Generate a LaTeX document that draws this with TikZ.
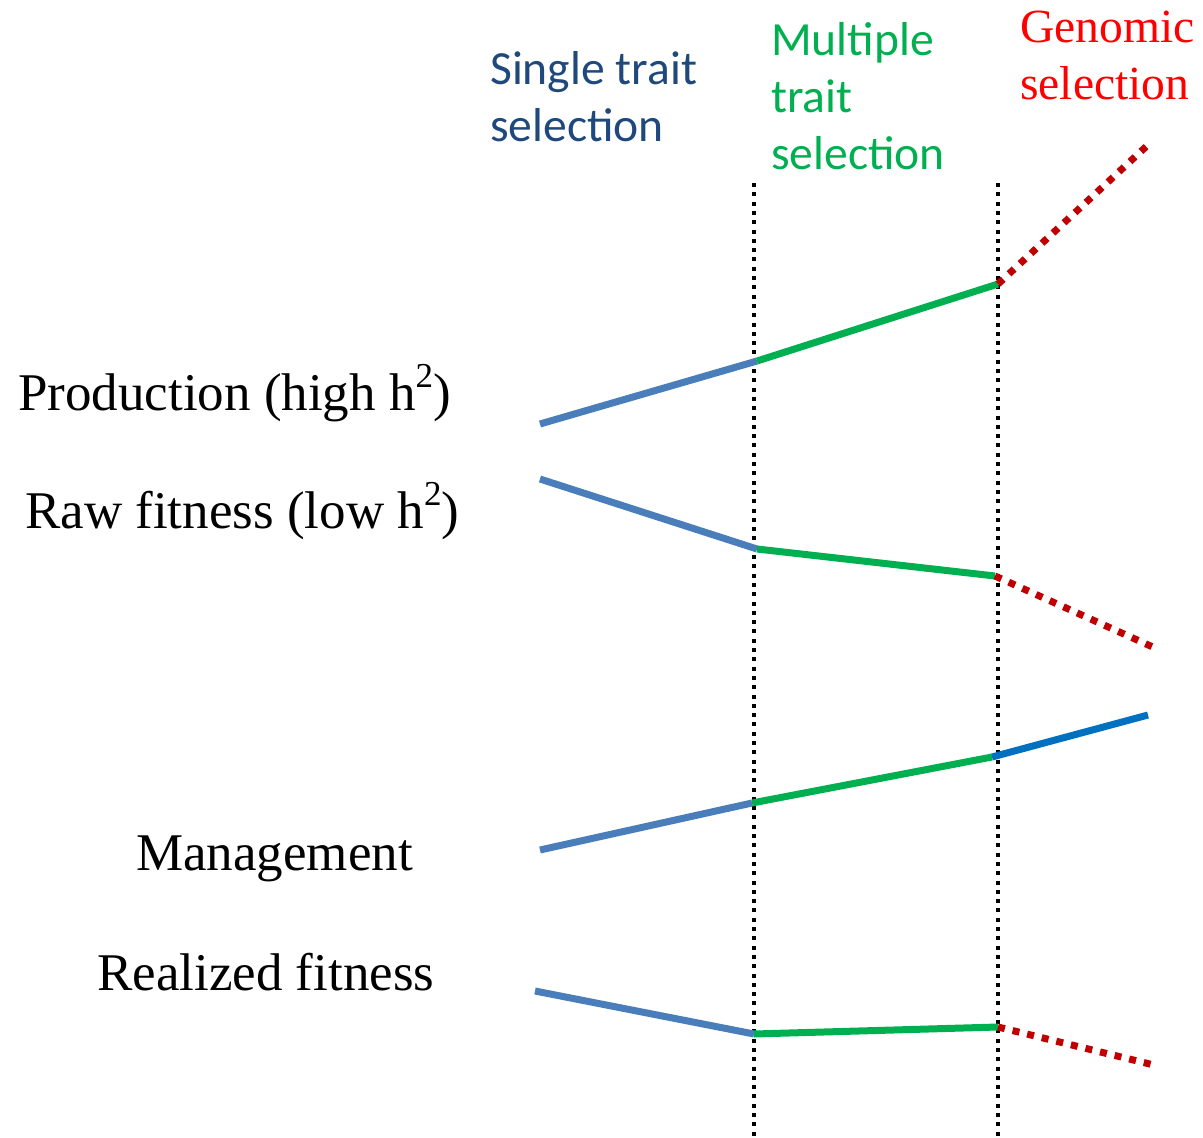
\documentclass[tikz,border=0pt]{standalone}
\usepackage{fontspec}
\setmainfont{Liberation Serif}
\newfontfamily\calib{Carlito}
\definecolor{stblue}{HTML}{4A7EBB}
\definecolor{gsgreen}{HTML}{00B050}
\definecolor{dkred}{HTML}{C00000}
\definecolor{mblue}{HTML}{0070C0}
\definecolor{navytxt}{HTML}{1F497D}
\definecolor{redtxt}{HTML}{FF0000}
\newcommand{\hsq}{\raisebox{0.42em}{\fontsize{35}{35}\selectfont 2}}
\tikzset{
  seg/.style={line width=7pt},
  singleseg/.style={seg, stblue},
  multiseg/.style={seg, gsgreen},
  genseg/.style={seg, dkred, dash pattern=on 7pt off 8pt},
  mgmtseg/.style={seg, mblue},
  divider/.style={line width=4pt, black, dash pattern=on 4pt off 5.3pt},
  toplabel/.style={inner sep=0pt, anchor=base west, align=left, font=\calib\fontsize{47.6}{57}\selectfont},
  gentlabel/.style={inner sep=0pt, anchor=base west, align=left, font=\fontsize{47.6}{57}\selectfont},
  rowlabel/.style={inner sep=0pt, anchor=base west, font=\fontsize{53}{60}\selectfont}
}
\begin{document}
\begin{tikzpicture}[x=1pt,y=-1pt]
\useasboundingbox (0,0) rectangle (1203,1138);
% dividers
\coordinate (d1t) at (754,183); \coordinate (d1b) at (754,1138);
\coordinate (d2t) at (998,183); \coordinate (d2b) at (998,1138);
\draw[divider] (d1t) -- (d1b);
\draw[divider] (d2t) -- (d2b);
% headers
\node[toplabel, text=navytxt] (hsingle) at (490,141) {Single trait\\selection};
\node[toplabel, text=gsgreen] (hmulti) at (771,169) {Multiple\\trait\\selection};
\node[gentlabel, text=redtxt] (hgen) at (1020,99) {Genomic\\selection};
% row labels
\node[rowlabel] (lprod) at (18,410) {Production (high h\hsq)};
\node[rowlabel] (lraw) at (25,528) {Raw fitness (low h\hsq)};
\node[rowlabel] (lmgmt) at (136,870) {Management};
\node[rowlabel] (lreal) at (97,990) {Realized fitness};
% production
\coordinate (p0) at (540,424); \coordinate (p1) at (757,361);
\coordinate (p2) at (998,284); \coordinate (p3) at (1150,143);
\draw[singleseg] (p0) -- (p1);
\draw[multiseg] (p1) -- (p2);
\draw[genseg] (p2) -- (p3);
% raw fitness
\coordinate (r0) at (540,479); \coordinate (r1) at (757,549);
\coordinate (r2) at (995,576); \coordinate (r3) at (1155,648);
\draw[singleseg] (r0) -- (r1);
\draw[multiseg] (r1) -- (r2);
\draw[genseg] (r2) -- (r3);
% management
\coordinate (m0) at (540,850); \coordinate (m1) at (752,803);
\coordinate (m2) at (992,757); \coordinate (m3) at (1148,715);
\draw[singleseg] (m0) -- (m1);
\draw[multiseg] (m1) -- (m2);
\draw[mgmtseg] (m2) -- (m3);
% realized fitness
\coordinate (f0) at (535,991); \coordinate (f1) at (754,1034);
\coordinate (f2) at (998,1027); \coordinate (f3) at (1158,1066);
\draw[singleseg] (f0) -- (f1);
\draw[multiseg] (f1) -- (f2);
\draw[genseg] (f2) -- (f3);
\end{tikzpicture}
\end{document}
